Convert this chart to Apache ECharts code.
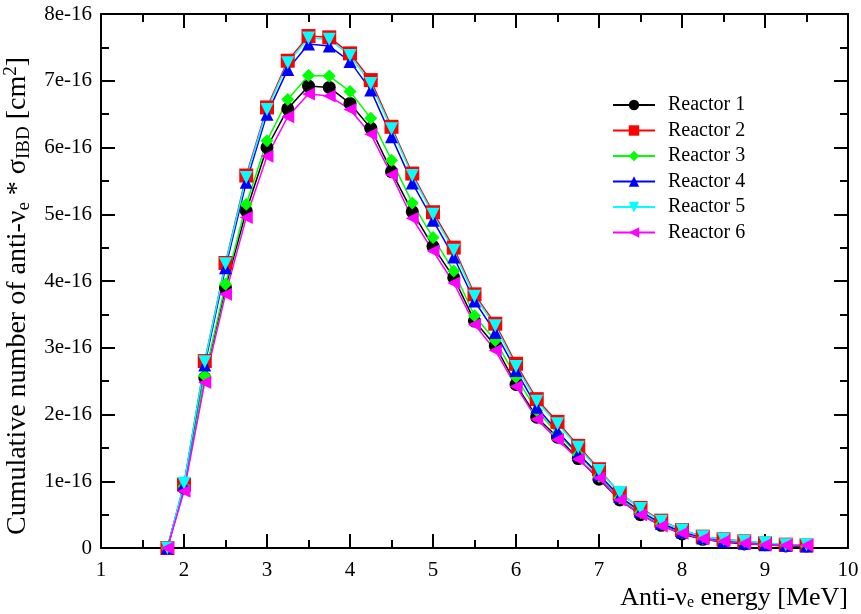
<!DOCTYPE html>
<html>
<head>
<meta charset="utf-8">
<script src="https://cdn.jsdelivr.net/npm/echarts@6/dist/echarts.min.js"></script>
<style>
  html, body { margin: 0; padding: 0; background: #fff; }
  #chart { width: 861px; height: 614px; }
</style>
</head>
<body>
<div id="chart"></div>
<script>
// Anti-neutrino energy bins [MeV]
const energy = [1.8, 2.0, 2.25, 2.5, 2.75, 3.0, 3.25, 3.5, 3.75, 4.0, 4.25, 4.5, 4.75, 5.0, 5.25, 5.5,
                5.75, 6.0, 6.25, 6.5, 6.75, 7.0, 7.25, 7.5, 7.75, 8.0, 8.25, 8.5, 8.75, 9.0, 9.25, 9.5];

// Cumulative flux x IBD cross-section per reactor, in units of 1e-16 cm^2
const reactor1 = [0, 0.90, 2.55, 3.90, 5.05, 6.00, 6.58, 6.92, 6.90, 6.66, 6.29, 5.64, 5.04, 4.52, 4.05, 3.40,
                  3.03, 2.45, 1.96, 1.66, 1.34, 1.03, 0.72, 0.50, 0.34, 0.21, 0.13, 0.09, 0.06, 0.05, 0.03, 0.03];
const reactor2 = [0, 0.95, 2.80, 4.27, 5.58, 6.60, 7.30, 7.67, 7.65, 7.41, 7.01, 6.31, 5.61, 5.03, 4.50, 3.80,
                  3.36, 2.76, 2.23, 1.89, 1.53, 1.18, 0.82, 0.60, 0.41, 0.27, 0.17, 0.13, 0.10, 0.07, 0.05, 0.04];
const reactor3 = [0, 0.92, 2.58, 3.95, 5.15, 6.10, 6.72, 7.08, 7.07, 6.84, 6.44, 5.81, 5.17, 4.65, 4.15, 3.48,
                  3.11, 2.56, 2.06, 1.71, 1.40, 1.07, 0.75, 0.53, 0.36, 0.23, 0.14, 0.10, 0.07, 0.05, 0.04, 0.03];
const reactor4 = [0, 0.95, 2.74, 4.20, 5.48, 6.50, 7.17, 7.55, 7.52, 7.29, 6.86, 6.16, 5.47, 4.91, 4.36, 3.70,
                  3.23, 2.66, 2.11, 1.75, 1.41, 1.10, 0.77, 0.55, 0.37, 0.24, 0.15, 0.10, 0.07, 0.05, 0.04, 0.03];
const reactor5 = [0, 0.97, 2.79, 4.26, 5.55, 6.57, 7.27, 7.64, 7.62, 7.38, 6.96, 6.28, 5.58, 5.00, 4.46, 3.77,
                  3.33, 2.72, 2.20, 1.86, 1.51, 1.16, 0.83, 0.59, 0.40, 0.27, 0.17, 0.13, 0.10, 0.08, 0.05, 0.05];
const reactor6 = [0, 0.85, 2.48, 3.80, 4.95, 5.87, 6.46, 6.80, 6.77, 6.57, 6.20, 5.59, 4.94, 4.45, 3.97, 3.35,
                  2.96, 2.42, 1.93, 1.62, 1.33, 1.05, 0.72, 0.50, 0.33, 0.22, 0.14, 0.10, 0.07, 0.05, 0.04, 0.04];

// Tick labels of the value axis (multiples of 1e-16)
const yTickLabels = ['0', '1e-16', '2e-16', '3e-16', '4e-16', '5e-16', '6e-16', '7e-16', '8e-16'];

const seriesNames = ['Reactor 1', 'Reactor 2', 'Reactor 3', 'Reactor 4', 'Reactor 5', 'Reactor 6'];
const seriesValues = [reactor1, reactor2, reactor3, reactor4, reactor5, reactor6];
const seriesColors = ['#000000', '#ff0000', '#00ff00', '#0000ff', '#00ffff', '#ff00ff'];
const seriesSymbols = ['circle', 'rect', 'diamond', 'triangle', 'triangle', 'triangle'];
const seriesSymbolSizes = [13, 14, 13, 13, 13, 13];
const seriesSymbolRotate = [0, 0, 0, 0, 180, 90];

const FONT = '"Liberation Serif", "DejaVu Serif", serif';

const chart = echarts.init(document.getElementById('chart'), null, { renderer: 'canvas' });

function frameLine() { return { show: true, onZero: false, lineStyle: { color: '#000', width: 2 } }; }
function majorTick() { return { show: true, inside: true, length: 14, lineStyle: { color: '#000', width: 2 } }; }
function minorTick() { return { show: true, splitNumber: 2, length: 8, lineStyle: { color: '#000', width: 2 } }; }

const series = seriesNames.map((name, i) => ({
  name: name,
  type: 'line',
  xAxisIndex: 0,
  yAxisIndex: 0,
  data: energy.map((e, k) => [e, seriesValues[i][k]]),
  symbol: seriesSymbols[i],
  symbolSize: seriesSymbolSizes[i],
  symbolRotate: seriesSymbolRotate[i],
  showAllSymbol: true,
  lineStyle: { color: seriesColors[i], width: 1.5 },
  itemStyle: { color: seriesColors[i], borderWidth: 0 },
  emphasis: { disabled: true },
  animation: false
}));

chart.setOption({
  backgroundColor: '#ffffff',
  animation: false,
  grid: { left: 101, right: 13, top: 14, bottom: 66, containLabel: false, outerBoundsMode: 'none' },
  legend: {
    orient: 'vertical',
    left: 612,
    top: 95,
    padding: 0,
    itemWidth: 42,
    itemHeight: 13,
    itemGap: 5.5,
    data: seriesNames,
    textStyle: { fontFamily: FONT, fontSize: 20, lineHeight: 20, color: '#000', padding: [0, 0, 0, 8] }
  },
  xAxis: [
    {
      type: 'value',
      position: 'bottom',
      min: 1,
      max: 10,
      interval: 1,
      name: 'Anti-ν{sub|e} energy [MeV]',
      nameLocation: 'end',
      nameGap: 0,
      nameTextStyle: {
        fontFamily: FONT, fontSize: 26, color: '#000',
        align: 'right', verticalAlign: 'top', padding: [37, 0, 0, 0],
        rich: { sub: { fontFamily: FONT, fontSize: 16, color: '#000', verticalAlign: 'bottom', padding: [10, 0, 0, 0] } }
      },
      axisLine: frameLine(),
      axisTick: majorTick(),
      minorTick: minorTick(),
      splitLine: { show: false },
      axisLabel: { fontFamily: FONT, fontSize: 21, color: '#000', margin: 12 }
    },
    {
      type: 'value',
      position: 'top',
      min: 1,
      max: 10,
      interval: 1,
      axisLine: frameLine(),
      axisTick: majorTick(),
      minorTick: minorTick(),
      splitLine: { show: false },
      axisLabel: { show: false }
    }
  ],
  yAxis: [
    {
      type: 'value',
      position: 'left',
      min: 0,
      max: 8,
      interval: 1,
      name: '{t|Cumulative number of anti-ν}{sub|e}{t| * σ}{sub|IBD}{t| [cm}{sup|2}{t|]}',
      nameLocation: 'middle',
      nameGap: 64,
      nameRotate: 90,
      nameTextStyle: {
        fontFamily: FONT, fontSize: 28, color: '#000', padding: [0, 30, 0, 0],
        rich: {
          t: { fontFamily: FONT, fontSize: 28, color: '#000', lineHeight: 32 },
          sub: { fontFamily: FONT, fontSize: 19, color: '#000', verticalAlign: 'bottom', lineHeight: 32, padding: [10, 0, 0, 0] },
          sup: { fontFamily: FONT, fontSize: 19, color: '#000', verticalAlign: 'top', lineHeight: 32, padding: [0, 0, 10, 0] }
        }
      },
      axisLine: frameLine(),
      axisTick: majorTick(),
      minorTick: minorTick(),
      splitLine: { show: false },
      axisLabel: {
        fontFamily: FONT, fontSize: 21, color: '#000', margin: 9,
        formatter: v => yTickLabels[Math.round(v)]
      }
    },
    {
      type: 'value',
      position: 'right',
      min: 0,
      max: 8,
      interval: 1,
      axisLine: frameLine(),
      axisTick: majorTick(),
      minorTick: minorTick(),
      splitLine: { show: false },
      axisLabel: { show: false }
    }
  ],
  series: series
});
</script>
</body>
</html>
